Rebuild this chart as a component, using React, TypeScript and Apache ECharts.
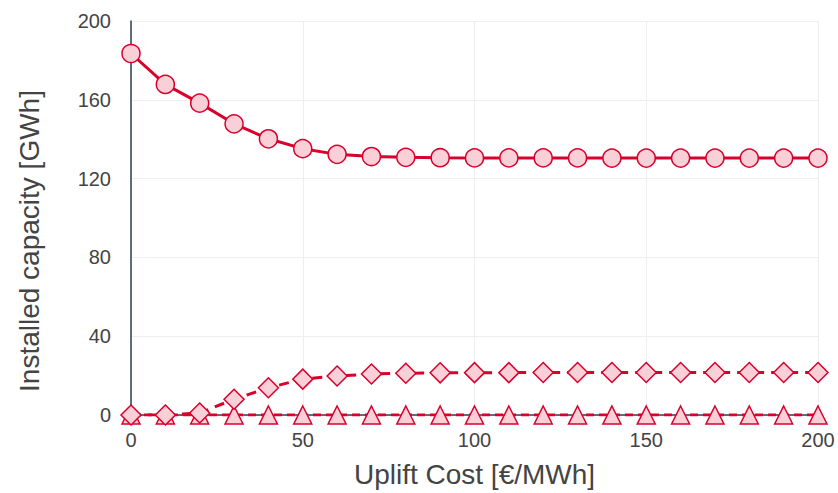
import React, { useEffect, useRef } from "react";
import * as echarts from "echarts";

const upliftCost = [0, 10, 20, 30, 40, 50, 60, 70, 80, 90, 100, 110, 120, 130, 140, 150, 160, 170, 180, 190, 200];
const seriesCircle = [183.5, 167.8, 158.3, 147.8, 140.2, 135.2, 132.3, 131.2, 130.8, 130.6, 130.5, 130.5, 130.5, 130.5, 130.4, 130.4, 130.4, 130.4, 130.4, 130.4, 130.4];
const seriesDiamond = [0, 0, 1, 8, 13.8, 18.2, 19.8, 20.8, 21.2, 21.4, 21.5, 21.5, 21.6, 21.6, 21.6, 21.6, 21.6, 21.6, 21.6, 21.6, 21.6];
const seriesTriangle = [0, 0, 0, 0, 0, 0, 0, 0, 0, 0, 0, 0, 0, 0, 0, 0, 0, 0, 0, 0, 0];
const yTicks = [0, 40, 80, 120, 160, 200];
const xTicks = [0, 50, 100, 150, 200];

const RED = "#d9002c";
const PINK = "#f9d0d8";
const FONT = "'Liberation Sans', Arial, sans-serif";

export default function App() {
  const ref = useRef<HTMLDivElement>(null);
  useEffect(() => {
    const chart = echarts.init(ref.current!, null, { renderer: "svg" });
    const mk = (vals: number[], symbol: string, size: number, dash: any, z: number) => ({
      type: "line",
      data: upliftCost.map((x, i) => [x, vals[i]]),
      symbol,
      symbolSize: size,
      showAllSymbol: true,
      z,
      lineStyle: { color: RED, width: 3, type: dash },
      itemStyle: { color: PINK, borderColor: RED, borderWidth: 1.5 },
      emphasis: { disabled: true },
    });
    chart.setOption({
      animation: false,
      grid: { left: 131, right: 20, top: 21, bottom: 77 },
      xAxis: {
        type: "value",
        min: xTicks[0],
        max: xTicks[xTicks.length - 1],
        interval: 50,
        name: "Uplift Cost [€/MWh]",
        nameLocation: "middle",
        nameGap: 45,
        nameTextStyle: { fontSize: 28, color: "#444", fontFamily: FONT },
        axisLine: { show: true, onZero: true, lineStyle: { color: "#2a3f55", width: 1.5 } },
        axisTick: { show: false },
        axisLabel: { fontSize: 20, color: "#444", fontFamily: FONT, margin: 15 },
        splitLine: { show: true, lineStyle: { color: "#eeeeee" } },
      },
      yAxis: {
        type: "value",
        min: yTicks[0],
        max: yTicks[yTicks.length - 1],
        interval: 40,
        name: "Installed capacity [GWh]",
        nameLocation: "middle",
        nameGap: 88,
        nameTextStyle: { fontSize: 28, color: "#444", fontFamily: FONT, padding: [0, 46, 0, 0] },
        axisLine: { show: true, lineStyle: { color: "#2a3f55", width: 1.5 } },
        axisTick: { show: false },
        axisLabel: { fontSize: 20, color: "#444", fontFamily: FONT, margin: 20 },
        splitLine: { show: true, lineStyle: { color: "#eeeeee" } },
      },
      series: [
        mk(seriesTriangle, "triangle", 18, [8, 5], 3),
        mk(seriesDiamond, "diamond", 20, [10, 7], 4),
        mk(seriesCircle, "circle", 18, "solid", 5),
      ],
    });
    return () => chart.dispose();
  }, []);
  return <div ref={ref} style={{ width: 838, height: 493, position: "absolute", left: 0, top: 0 }} />;
}
